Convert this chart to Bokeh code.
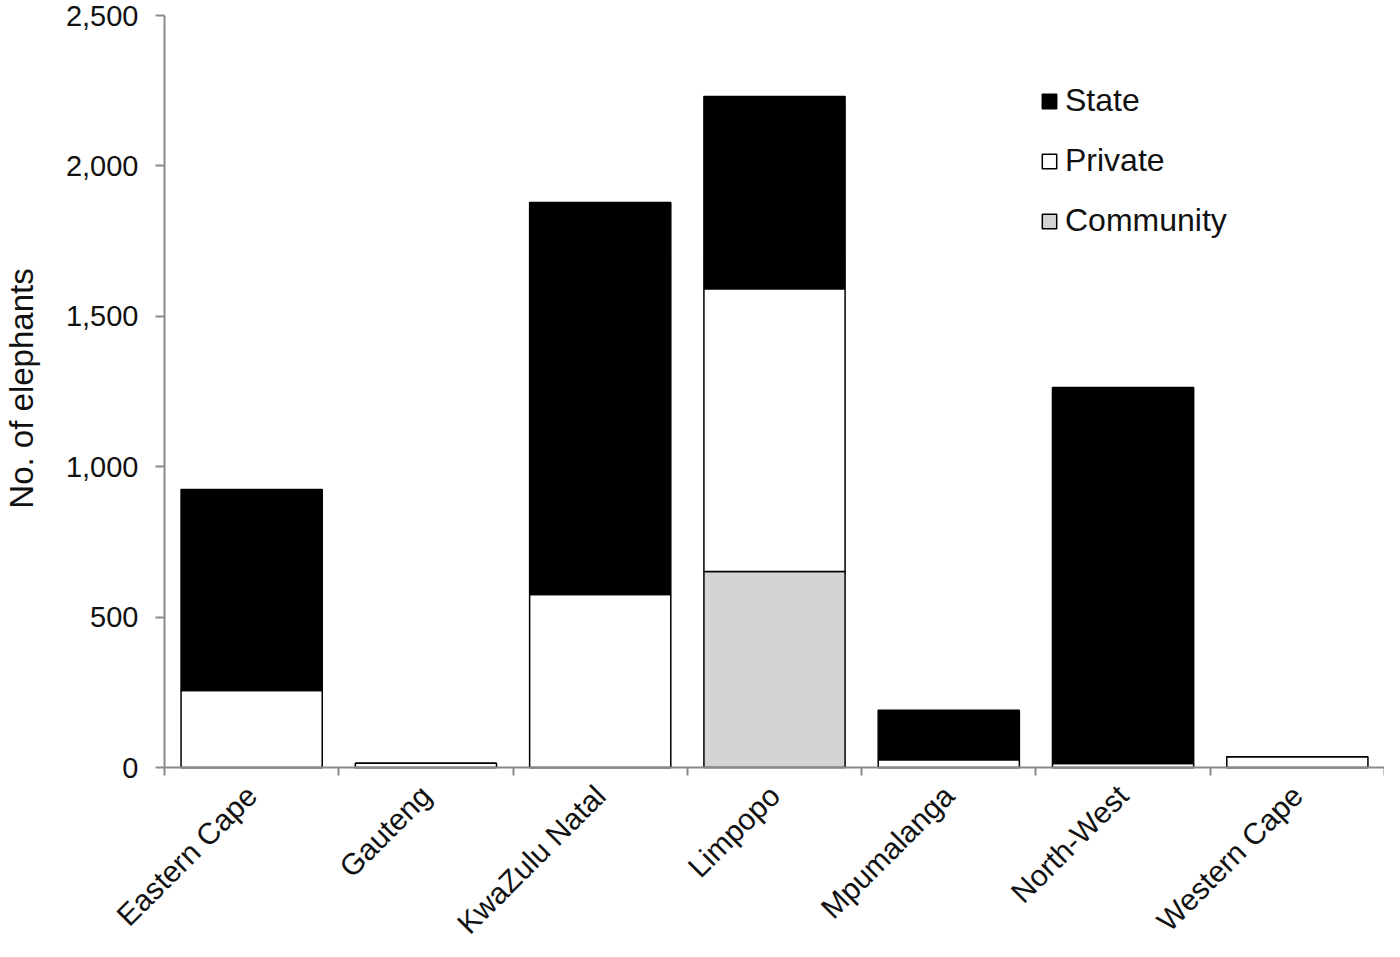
from bokeh.plotting import figure
from bokeh.models import (Range1d, FixedTicker, NumeralTickFormatter, Legend, LegendItem,
                          ColumnDataSource, Label)
from bokeh.embed import file_html
from bokeh.resources import INLINE
import math

categories = ["Eastern Cape", "Gauteng", "KwaZulu Natal", "Limpopo",
              "Mpumalanga", "North-West", "Western Cape"]
community = [0, 0, 0, 652, 0, 0, 0]
private = [256, 14, 575, 940, 26, 13, 36]
state = [668, 0, 1303, 639, 164, 1250, 0]
y_ticks = [0, 500, 1000, 1500, 2000, 2500]
y_title = "No. of elephants"

FONT = "Liberation Sans"
GRAY = "#8a8a8a"
TXT = "#111111"

# canvas geometry: the frame covers the whole canvas; axes are fixed at 0
W, H = 1384, 941
LEFT_PX, TOP_PX, ZERO_PX = 164, 15, 767
YMAX = 2500
NCAT = len(categories)
ypp = (ZERO_PX - TOP_PX) / YMAX
xpp = (W - LEFT_PX) / NCAT

xpos = [i + 0.5 for i in range(NCAT)]
source = ColumnDataSource(dict(x=xpos, Community=community, Private=private, State=state))

p = figure(width=W, height=H, output_backend="svg", toolbar_location=None,
           x_range=Range1d(-LEFT_PX / xpp, NCAT),
           y_range=Range1d(-(H - ZERO_PX) / ypp, YMAX + TOP_PX / ypp),
           min_border_left=0, min_border_top=0, min_border_right=0, min_border_bottom=0)
p.outline_line_color = None
p.xgrid.grid_line_color = None
p.ygrid.grid_line_color = None
p.background_fill_color = "white"

renderers = p.vbar_stack(["Community", "Private", "State"], x="x", width=0.81, source=source,
                         fill_color=["#d4d4d4", "white", "black"],
                         line_color="black", line_width=1.5)

# y axis fixed at x=0
ya = p.yaxis[0]
ya.fixed_location = 0
ya.bounds = (0, YMAX)
ya.ticker = FixedTicker(ticks=y_ticks, minor_ticks=[])
ya.formatter = NumeralTickFormatter(format="0,0")
ya.axis_line_color = GRAY
ya.axis_line_width = 2
ya.major_tick_line_color = GRAY
ya.major_tick_line_width = 2
ya.major_tick_out = 9
ya.major_tick_in = 0
ya.minor_tick_line_color = None
ya.major_label_text_font = FONT
ya.major_label_text_font_size = "29px"
ya.major_label_text_color = TXT
ya.major_label_standoff = 17

# x axis fixed at y=0
xa = p.xaxis[0]
xa.fixed_location = 0
xa.bounds = (0, NCAT)
xa.ticker = FixedTicker(ticks=xpos, minor_ticks=list(range(NCAT + 1)))
xa.major_label_overrides = {x: c for x, c in zip(xpos, categories)}
xa.major_label_orientation = math.pi / 4
xa.major_label_text_font = FONT
xa.major_label_text_font_size = "30px"
xa.major_label_text_color = TXT
xa.major_label_standoff = 15
xa.axis_line_color = GRAY
xa.axis_line_width = 2
xa.major_tick_line_color = None
xa.major_tick_out = 0
xa.major_tick_in = 0
xa.minor_tick_line_color = GRAY
xa.minor_tick_line_width = 2
xa.minor_tick_out = 8
xa.minor_tick_in = 0

# y axis title
p.add_layout(Label(x=21, y=YMAX / 2 + 10, x_units="screen", y_units="data", text=y_title,
                   angle=math.pi / 2, text_align="center", text_baseline="middle",
                   text_font=FONT, text_font_size="33px", text_color=TXT))

legend = Legend(items=[LegendItem(label="State", renderers=[renderers[2]]),
                       LegendItem(label="Private", renderers=[renderers[1]]),
                       LegendItem(label="Community", renderers=[renderers[0]])],
                location=(1040, 702))
legend.label_text_font = FONT
legend.label_text_font_size = "32px"
legend.label_text_color = TXT
legend.glyph_width = 18
legend.glyph_height = 18
legend.label_standoff = 7
legend.spacing = 23
legend.padding = 0
legend.margin = 0
legend.border_line_color = None
legend.background_fill_alpha = 0
p.add_layout(legend)

open("out.html", "w").write(file_html(p, INLINE))
